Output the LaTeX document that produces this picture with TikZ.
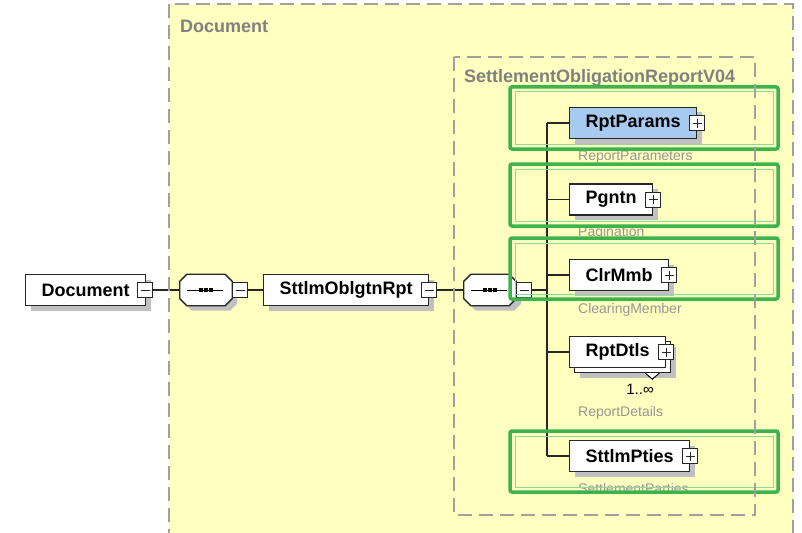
\documentclass[tikz,border=0pt]{standalone}
\usepackage{fontspec}
\setmainfont{Liberation Sans}
\usetikzlibrary{shadows}
\definecolor{paper}{RGB}{255,255,192}
\definecolor{frame}{RGB}{160,160,160}
\definecolor{hlgreen}{RGB}{60,180,75}
\definecolor{reqblue}{RGB}{166,202,240}
\definecolor{shade}{RGB}{192,192,192}
\definecolor{capgray}{RGB}{150,150,150}
\tikzset{
  cont/.style={draw=frame,line width=1.3pt,dash pattern=on 14pt off 7pt},
  conttitle/.style={anchor=west,text=gray,inner sep=0pt,font=\bfseries\fontsize{18}{20}\selectfont},
  elembase/.style={draw=black!85,fill=white,line width=1.3pt,anchor=west,minimum height=31pt,
    inner xsep=16pt,inner ysep=0pt,font=\bfseries\fontsize{18}{20}\selectfont},
  shadowed/.style={drop shadow={shadow xshift=5pt,shadow yshift=-5pt,fill=shade,opacity=1}},
  elem/.style={elembase,shadowed},
  seqbox/.style={minimum width=52pt,minimum height=31pt,inner sep=0pt},
  pmbox/.style={draw=black!85,fill=white,line width=1pt,minimum size=15pt,inner sep=0pt},
  minus/.style={pmbox,path picture={
    \draw[line width=1pt] ([xshift=3pt]path picture bounding box.west) -- ([xshift=-3pt]path picture bounding box.east);}},
  plus/.style={pmbox,path picture={
    \draw[line width=1pt] ([xshift=3pt]path picture bounding box.west) -- ([xshift=-3pt]path picture bounding box.east);
    \draw[line width=1pt] ([yshift=-3pt]path picture bounding box.north) -- ([yshift=3pt]path picture bounding box.south);}},
  conn/.style={draw=black!85,line width=1.2pt},
  capt/.style={anchor=west,text=capgray,inner sep=0pt,font=\fontsize{14}{16}\selectfont},
  hl/.style={draw=hlgreen,line width=3.5pt,rounded corners=2pt},
  hlin/.style={draw=hlgreen!55!white,line width=1pt}
}
\begin{document}
\begin{tikzpicture}[x=1pt,y=-1pt]
\useasboundingbox (0,0) rectangle (802,532);
\fill[paper] (169,4) rectangle (793,545);
\node[conttitle] (doctitle) at (180,26) {Document};
\node[conttitle] (rpttitle) at (464,78) {SettlementObligationReportV04};

\node[elem] (doc) at (25,290) {Document};
\node[minus] (docpm) at ([xshift=-1pt]doc.east) {};
\node[seqbox] (seqa) at (206,290) {};
\node[elem] (rpt) at (263,290) {SttlmOblgtnRpt};
\node[minus] (rptpm) at (rpt.east) {};
\node[seqbox] (seqb) at (490,290) {};
\foreach \s in {seqa,seqb} {
  \draw[shadowed,draw=black!85,fill=white,line width=1.3pt]
    ([xshift=7pt]\s.north west) -- ([xshift=-7pt]\s.north east) -- ([yshift=-7pt]\s.north east)
    -- ([yshift=7pt]\s.south east) -- ([xshift=-7pt]\s.south east) -- ([xshift=7pt]\s.south west)
    -- ([yshift=7pt]\s.south west) -- ([yshift=-7pt]\s.north west) -- cycle;
  \draw[line width=1pt] ([xshift=7pt]\s.west) -- ([xshift=-9pt]\s.east);
  \foreach \d in {-5,0,5}
    \fill ([xshift=\d pt]\s.center) +(-1.7pt,-1.7pt) rectangle +(1.7pt,1.7pt);
}
\node[minus,anchor=west] (seqapm) at (seqa.east) {};
\node[minus,anchor=west] (seqbpm) at (seqb.east) {};

\node[elem,fill=reqblue] (params) at (569,123) {RptParams};
\node[plus] (paramspm) at (params.east) {};
\node[elem] (pgntn) at (569,199.5) {Pgntn};
\node[plus] (pgntnpm) at (pgntn.east) {};
\node[elem] (clrmmb) at (569,275) {ClrMmb};
\node[plus] (clrmmbpm) at (clrmmb.east) {};
\node[elem] (dtlsback) at (574,357) {\phantom{RptDtls}};
\draw[fill=white,line width=1pt] ([xshift=-26pt]dtlsback.south east) -- ([xshift=-19pt,yshift=-6pt]dtlsback.south east) -- ([xshift=-12pt]dtlsback.south east);
\node[elembase] (dtls) at (569,352) {RptDtls};
\node[plus] (dtlspm) at (dtls.east) {};
\node[font=\fontsize{15}{17}\selectfont] (dtlsmult) at (640,389) {1..∞};
\node[elem] (sttlm) at (569,456) {SttlmPties};
\node[plus] (sttlmpm) at (sttlm.east) {};

\node[capt] (paramscap) at (578,157) {ReportParameters};
\node[capt] (pgntncap) at (578,233) {Pagination};
\node[capt] (clrmmbcap) at (578,310) {ClearingMember};
\node[capt] (dtlscap) at (578,413) {ReportDetails};
\node[capt] (sttlmcap) at (578,488) {SettlementParties};

\draw[conn] (docpm) -- (seqa);
\draw[conn] (seqapm) -- (rpt);
\draw[conn] (rptpm) -- (seqb);
\coordinate (bus) at (547,290);
\draw[conn] (seqbpm) -- (bus);
\draw[conn] (bus |- params.west) -- (bus |- sttlm.west);
\foreach \c in {params,pgntn,clrmmb,dtls,sttlm}
  \draw[conn] (bus |- \c.west) -- (\c.west);

\foreach \t/\b in {87/149,164/226,238/299,431/492} {
  \draw[hl] (510,\t) rectangle (778,\b);
  \draw[hlin] (515,\t+5) rectangle (773,\b-5);
}
\draw[cont] (169,4) rectangle (793,545);
\draw[cont] (454,57) rectangle (755,515);
\end{tikzpicture}
\end{document}
